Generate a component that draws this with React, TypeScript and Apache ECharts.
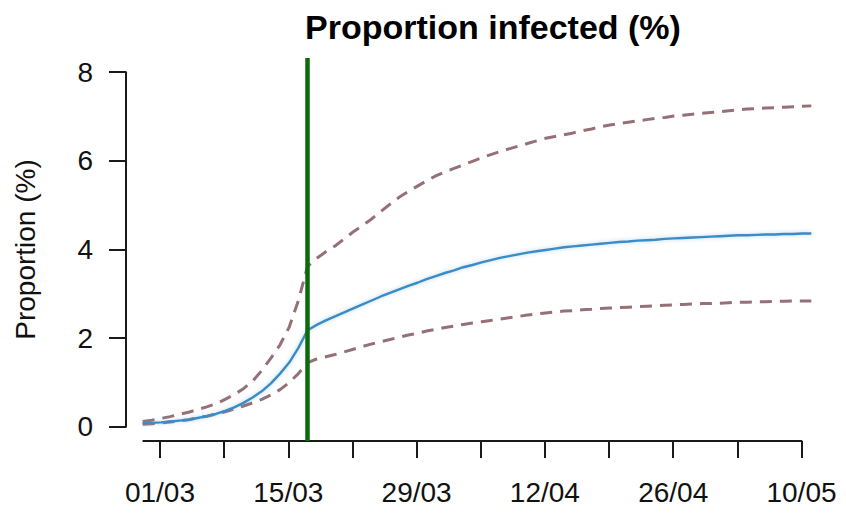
import React, { useEffect, useRef } from "react";
import * as echarts from "echarts";

// Days since 01/03/2020
const days = [
  -2, -1, 0, 1, 2, 3, 4, 5, 6, 7, 8, 9, 10, 11, 12, 13, 14, 15, 16, 17, 18, 19,
  20, 21, 22, 23, 24, 25, 26, 27, 28, 29, 30, 31, 32, 33, 34, 35, 36, 37, 38,
  39, 40, 41, 42, 43, 44, 45, 46, 47, 48, 49, 50, 51, 52, 53, 54, 55, 56, 57,
  58, 59, 60, 61, 62, 63, 64, 65, 66, 67, 68, 69, 70, 71,
];

const median = [
  0.08, 0.09, 0.1, 0.12, 0.14, 0.16, 0.2, 0.24, 0.29, 0.36, 0.44, 0.54, 0.66,
  0.8, 0.98, 1.2, 1.45, 1.78, 2.18, 2.3, 2.4, 2.49, 2.58, 2.67, 2.76, 2.85,
  2.94, 3.02, 3.1, 3.18, 3.25, 3.33, 3.4, 3.47, 3.53, 3.6, 3.65, 3.71, 3.76,
  3.81, 3.85, 3.89, 3.93, 3.96, 3.99, 4.02, 4.05, 4.07, 4.09, 4.11, 4.13, 4.15,
  4.17, 4.18, 4.2, 4.21, 4.22, 4.24, 4.25, 4.26, 4.27, 4.28, 4.29, 4.3, 4.31,
  4.32, 4.32, 4.33, 4.34, 4.34, 4.35, 4.35, 4.36, 4.36,
];

const upper = [
  0.12, 0.15, 0.19, 0.23, 0.28, 0.33, 0.39, 0.45, 0.52, 0.62, 0.73, 0.86, 1.03,
  1.27, 1.55, 1.85, 2.25, 2.85, 3.62, 3.8, 3.95, 4.08, 4.24, 4.4, 4.54, 4.69,
  4.86, 5.02, 5.18, 5.31, 5.43, 5.55, 5.66, 5.75, 5.83, 5.91, 5.99, 6.07, 6.14,
  6.21, 6.27, 6.33, 6.39, 6.45, 6.51, 6.55, 6.59, 6.63, 6.68, 6.72, 6.77, 6.81,
  6.84, 6.87, 6.9, 6.93, 6.96, 6.98, 7.01, 7.03, 7.05, 7.07, 7.09, 7.11, 7.13,
  7.15, 7.17, 7.18, 7.19, 7.2, 7.21, 7.22, 7.23, 7.24,
];

const lower = [
  0.06, 0.07, 0.09, 0.11, 0.13, 0.16, 0.2, 0.24, 0.29, 0.34, 0.4, 0.47, 0.54,
  0.62, 0.72, 0.84, 1.0, 1.2, 1.45, 1.53, 1.58, 1.63, 1.69, 1.75, 1.81, 1.87,
  1.92, 1.97, 2.02, 2.07, 2.11, 2.16, 2.2, 2.24, 2.27, 2.31, 2.34, 2.37, 2.4,
  2.43, 2.46, 2.49, 2.52, 2.55, 2.57, 2.59, 2.61, 2.62, 2.64, 2.65, 2.67, 2.68,
  2.69, 2.7, 2.71, 2.72, 2.73, 2.74, 2.75, 2.76, 2.77, 2.78, 2.78, 2.79, 2.8,
  2.81, 2.81, 2.82, 2.82, 2.83, 2.83, 2.84, 2.84, 2.84,
];

const lockdownDay = 16;

const xMinorTickDays = [0, 7, 14, 21, 28, 35, 42, 49, 56, 63, 70];
const xLabelDays = [0, 14, 28, 42, 56, 70];
const xTickLabels = ["01/03", "15/03", "29/03", "12/04", "26/04", "10/05"];
const yTicks = [0, 2, 4, 6, 8];

const titleText = "Proportion infected (%)";
const yAxisTitle = "Proportion (%)";

const FONT = "'Liberation Sans', Arial, Helvetica, sans-serif";
const AXIS_COLOR = "#1a1a1a";

export default function App() {
  const ref = useRef<HTMLDivElement>(null);

  useEffect(() => {
    document.body.style.margin = "0";
    if (!ref.current) return;
    const chart = echarts.init(ref.current, null, { renderer: "svg" });

    const pair = (vals: number[]) => days.map((d, i) => [d, vals[i]]);

    const option: any = {
      animation: false,
      backgroundColor: "#ffffff",
      title: {
        text: titleText,
        left: 300,
        top: 5,
        textStyle: {
          fontFamily: FONT,
          fontSize: 34,
          fontWeight: "bold",
          color: "#000",
        },
      },
      grid: [
        // plotting region
        { left: 126, right: 18, top: 58, bottom: 73, containLabel: false },
        // axis-drawing region
        { left: 143.3, right: 44.5, top: 72.2, bottom: 87.2, containLabel: false },
      ],
      xAxis: [
        {
          type: "value",
          gridIndex: 0,
          min: -3.82,
          max: 72.82,
          show: false,
        },
        {
          type: "value",
          gridIndex: 1,
          min: -1.82,
          max: 70,
          position: "bottom",
          offset: 14.2,
          axisLine: {
            show: true,
            onZero: false,
            lineStyle: { color: AXIS_COLOR, width: 2 },
          },
          axisTick: {
            show: true,
            length: 17,
            customValues: xMinorTickDays,
            lineStyle: { color: AXIS_COLOR, width: 2 },
          },
          axisLabel: {
            show: true,
            customValues: xLabelDays,
            margin: 37,
            fontFamily: FONT,
            fontSize: 28,
            color: "#111",
            formatter: (v: number) => {
              const i = xLabelDays.indexOf(Math.round(v));
              return i >= 0 ? xTickLabels[i] : "";
            },
          },
          splitLine: { show: false },
        },
      ],
      yAxis: [
        {
          type: "value",
          gridIndex: 0,
          min: -0.32,
          max: 8.32,
          show: false,
        },
        {
          type: "value",
          gridIndex: 1,
          min: 0,
          max: 8,
          interval: 2,
          position: "left",
          offset: 17.3,
          name: yAxisTitle,
          nameLocation: "middle",
          nameRotate: 90,
          nameGap: 87,
          nameTextStyle: { fontFamily: FONT, fontSize: 28, color: "#111" },
          axisLine: {
            show: true,
            onZero: false,
            lineStyle: { color: AXIS_COLOR, width: 2 },
          },
          axisTick: {
            show: true,
            length: 17,
            customValues: yTicks,
            lineStyle: { color: AXIS_COLOR, width: 2 },
          },
          axisLabel: {
            show: true,
            customValues: yTicks,
            margin: 33,
            fontFamily: FONT,
            fontSize: 28,
            color: "#111",
          },
          splitLine: { show: false },
        },
      ],
      series: [
        {
          name: "upper",
          type: "line",
          xAxisIndex: 0,
          yAxisIndex: 0,
          data: pair(upper),
          showSymbol: false,
          symbol: "none",
          lineStyle: { color: "#957077", width: 3, type: [12, 8] },
          silent: true,
          z: 2,
        },
        {
          name: "lower",
          type: "line",
          xAxisIndex: 0,
          yAxisIndex: 0,
          data: pair(lower),
          showSymbol: false,
          symbol: "none",
          lineStyle: { color: "#957077", width: 3, type: [12, 8] },
          silent: true,
          z: 2,
        },
        {
          name: "median",
          type: "line",
          xAxisIndex: 0,
          yAxisIndex: 0,
          data: pair(median),
          showSymbol: false,
          symbol: "none",
          lineStyle: {
            color: "#3b8bc6",
            width: 2.4,
            shadowBlur: 4,
            shadowColor: "rgba(90,160,215,0.45)",
          },
          silent: true,
          z: 3,
          markLine: {
            silent: true,
            symbol: "none",
            label: { show: false },
            lineStyle: { color: "#0b6b0b", width: 4.5, type: "solid" },
            data: [{ xAxis: lockdownDay }],
            z: 4,
          },
        },
      ],
    };

    chart.setOption(option);
    return () => chart.dispose();
  }, []);

  return <div ref={ref} style={{ width: 846, height: 514 }} />;
}
